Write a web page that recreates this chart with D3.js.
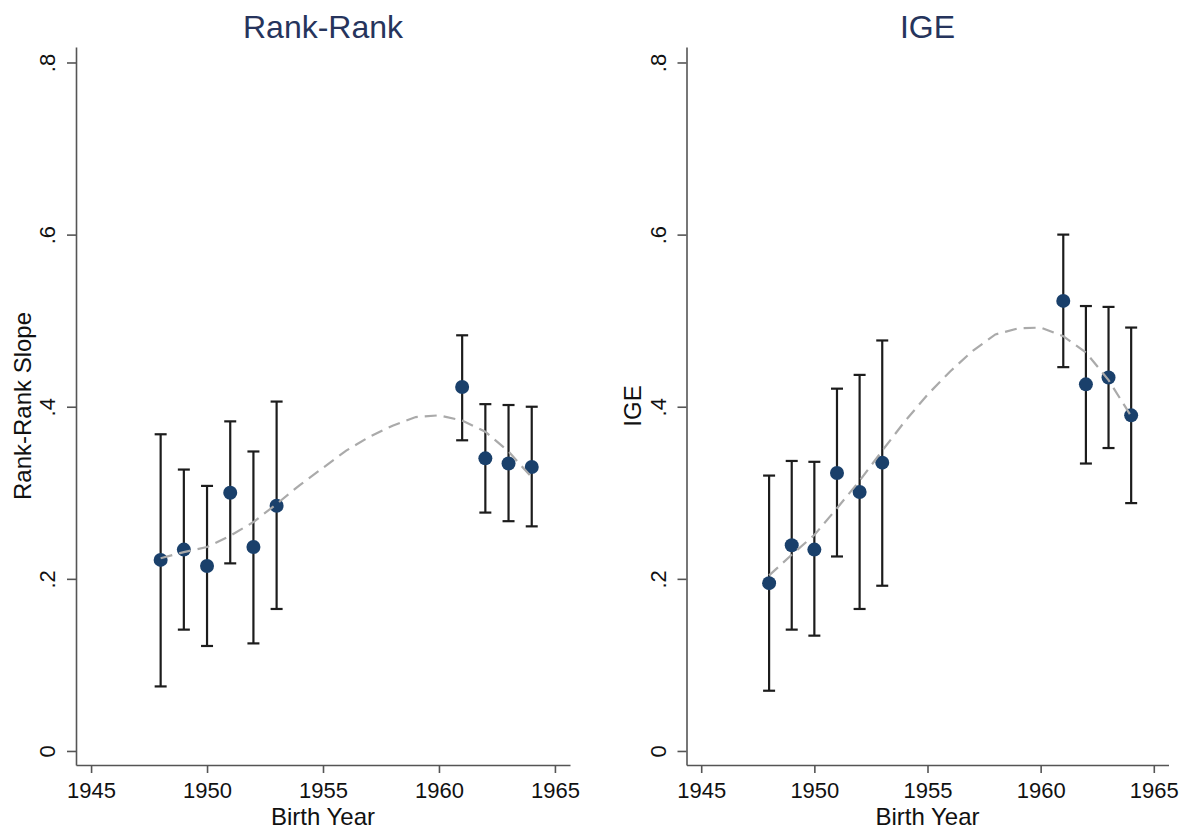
<!DOCTYPE html>
<html>
<head>
<meta charset="utf-8">
<script src="https://cdn.jsdelivr.net/npm/d3@7"></script>
<style>
  body { margin: 0; background: #ffffff; }
  svg { display: block; font-family: "Liberation Sans", Arial, Helvetica, sans-serif; }
</style>
</head>
<body>
<script>
// Cohort estimates by birth year.
const years = [1948, 1949, 1950, 1951, 1952, 1953, 1961, 1962, 1963, 1964];

const rankEst = [0.222, 0.234, 0.215, 0.300, 0.237, 0.285, 0.423, 0.340, 0.334, 0.330];
const rankLo  = [0.075, 0.141, 0.122, 0.218, 0.125, 0.165, 0.361, 0.277, 0.267, 0.261];
const rankHi  = [0.368, 0.327, 0.308, 0.383, 0.348, 0.406, 0.483, 0.403, 0.402, 0.400];

const igeEst = [0.195, 0.239, 0.234, 0.323, 0.301, 0.335, 0.523, 0.426, 0.434, 0.390];
const igeLo  = [0.070, 0.141, 0.134, 0.226, 0.165, 0.192, 0.446, 0.334, 0.352, 0.288];
const igeHi  = [0.320, 0.337, 0.336, 0.421, 0.437, 0.477, 0.600, 0.517, 0.516, 0.492];

// Smoothed fit (dashed line).
const fitYears = [1948, 1949, 1950, 1951, 1952, 1953, 1954, 1955, 1956, 1957, 1958, 1959, 1960, 1961, 1962, 1963, 1964];
const rankFit = [0.224, 0.231, 0.237, 0.250, 0.266, 0.287, 0.309, 0.329, 0.349, 0.365, 0.378, 0.388, 0.390, 0.384, 0.371, 0.348, 0.318];
const igeFit  = [0.204, 0.228, 0.251, 0.282, 0.314, 0.349, 0.383, 0.414, 0.441, 0.465, 0.484, 0.491, 0.492, 0.482, 0.463, 0.431, 0.389];

// Axis ticks.
const xTicks = [1945, 1950, 1955, 1960, 1965];
const yTicks = [0, 0.2, 0.4, 0.6, 0.8];
const yTickLabels = ['0', '.2', '.4', '.6', '.8'];

const panels = [
  {title: 'Rank-Rank', yTitle: 'Rank-Rank Slope', est: rankEst, lo: rankLo, hi: rankHi, fit: rankFit,
   left: 76, right: 570, yTitleX: 31},
  {title: 'IGE', yTitle: 'IGE', est: igeEst, lo: igeLo, hi: igeHi, fit: igeFit,
   left: 686.5, right: 1168.5, yTitleX: 641}
];

const size = {width: 1196, height: 829};
const plotTop = 47, plotBottom = 765;

const svg = d3.select('body')
      .append('svg')
      .attr('width', size.width)
      .attr('height', size.height)
      .style('background-color', '#ffffff');

panels.forEach((p) =>
{
  const x = d3.scaleLinear().domain([1944.35, 1965.65]).range([p.left, p.right]);
  const y = d3.scaleLinear().domain([-0.0163, 0.818]).range([plotBottom, plotTop]);

  const g = svg.append('g');

  // Title.
  g.append('text')
    .attr('x', (p.left + p.right) / 2)
    .attr('y', 38)
    .attr('text-anchor', 'middle')
    .style('font-size', '32px')
    .style('fill', '#26345c')
    .text(p.title);

  // Axes.
  const xAxis = d3.axisBottom(x)
        .tickValues(xTicks)
        .tickSize(8)
        .tickSizeOuter(0)
        .tickPadding(9)
        .tickFormat(d3.format('d'));

  const gx = g.append('g')
        .attr('transform', 'translate(0,' + plotBottom + ')')
        .call(xAxis);
  gx.selectAll('text').style('font-size', '22px').style('fill', '#111');

  const yAxis = d3.axisLeft(y)
        .tickValues(yTicks)
        .tickSize(9)
        .tickSizeOuter(0)
        .tickFormat((d, i) => yTickLabels[i]);

  const gy = g.append('g')
        .attr('transform', 'translate(' + p.left + ',0)')
        .call(yAxis);
  gy.selectAll('text')
    .attr('transform', 'rotate(-90)')
    .attr('x', 0)
    .attr('y', -21)
    .attr('dy', 0)
    .attr('text-anchor', 'middle')
    .style('font-size', '22px')
    .style('fill', '#111');

  svg.selectAll('.domain, .tick line')
    .style('stroke', '#555')
    .style('stroke-width', 1.6);

  // Axis titles.
  g.append('text')
    .attr('transform', 'translate(' + ((p.left + p.right) / 2) + ',825)')
    .attr('text-anchor', 'middle')
    .style('font-size', '24px')
    .style('fill', '#111')
    .text('Birth Year');

  g.append('text')
    .attr('transform', 'translate(' + p.yTitleX + ',' + ((plotTop + plotBottom) / 2) + ') rotate(-90)')
    .attr('text-anchor', 'middle')
    .style('font-size', '24px')
    .style('fill', '#111')
    .text(p.yTitle);

  // Confidence intervals.
  const bars = g.selectAll('g.ci')
        .data(years)
        .enter()
        .append('g')
        .attr('class', 'ci')
        .style('stroke', '#1c1c1c')
        .style('stroke-width', 2.2);

  bars.append('line')
    .attr('x1', (d) => x(d))
    .attr('x2', (d) => x(d))
    .attr('y1', (d, i) => y(p.lo[i]))
    .attr('y2', (d, i) => y(p.hi[i]));

  bars.append('line')
    .attr('x1', (d) => x(d) - 6)
    .attr('x2', (d) => x(d) + 6)
    .attr('y1', (d, i) => y(p.hi[i]))
    .attr('y2', (d, i) => y(p.hi[i]));

  bars.append('line')
    .attr('x1', (d) => x(d) - 6)
    .attr('x2', (d) => x(d) + 6)
    .attr('y1', (d, i) => y(p.lo[i]))
    .attr('y2', (d, i) => y(p.lo[i]));

  // Point estimates.
  g.selectAll('circle')
    .data(years)
    .enter()
    .append('circle')
    .attr('cx', (d) => x(d))
    .attr('cy', (d, i) => y(p.est[i]))
    .attr('r', 7)
    .style('fill', '#1a406b');

  // Fitted line.
  const line = d3.line()
        .x((d) => x(d))
        .y((d, i) => y(p.fit[i]));

  g.append('path')
    .datum(fitYears)
    .attr('d', line)
    .style('fill', 'none')
    .style('stroke', '#aaaaaa')
    .style('stroke-width', 2.2)
    .style('stroke-dasharray', '12,7');
});
</script>
</body>
</html>
